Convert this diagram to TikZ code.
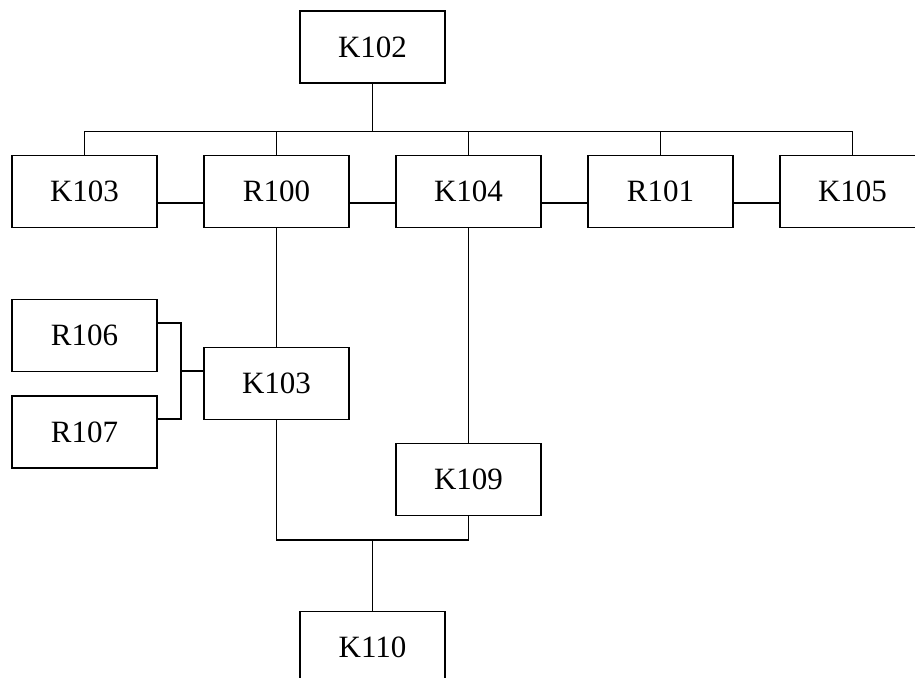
\documentclass[tikz,border=0pt]{standalone}
\usepackage{fontspec}
\setmainfont{Liberation Serif}
\begin{document}
\begin{tikzpicture}[x=1pt,y=-1pt,
  box/.style={draw,line width=1.6pt,minimum width=145pt,minimum height=72pt,inner sep=0pt,font=\fontsize{31}{36}\selectfont},
  wire/.style={line width=1.6pt}]
\useasboundingbox (0,0) rectangle (915,677);
\clip (0,0) rectangle (915,677);
\node[box] (K102) at (372.5,47) {K102};
\node[box] (K103a) at (84.5,191.5) {K103};
\node[box] (R100) at (276.5,191.5) {R100};
\node[box] (K104) at (468.5,191.5) {K104};
\node[box] (R101) at (660.5,191.5) {R101};
\node[box] (K105) at (852.5,191.5) {K105};
\node[box] (R106) at (84.5,335.5) {R106};
\node[box] (R107) at (84.5,432) {R107};
\node[box] (K103b) at (276.5,383.5) {K103};
\node[box] (K109) at (468.5,479.5) {K109};
\node[box] (K110) at (372.5,647.5) {K110};
\coordinate (bus) at (0,131.5);
\coordinate (lowbus) at (0,540);
\coordinate (join) at (180.7,0);
\coordinate (r106e) at ([yshift=12.5pt]R106.east);
\coordinate (r107e) at ([yshift=13pt]R107.east);
\coordinate (k103w) at ([yshift=12.5pt]K103b.west);
\draw[wire] (K102.south) -- (K102.south |- bus);
\draw[wire] (K103a.north) -- (K103a.north |- bus) -- (K105.north |- bus) -- (K105.north);
\draw[wire] (R100.north) -- (R100.north |- bus);
\draw[wire] (K104.north) -- (K104.north |- bus);
\draw[wire] (R101.north) -- (R101.north |- bus);
\draw[wire] ([yshift=-11.5pt]K103a.east) -- ([yshift=-11.5pt]R100.west);
\draw[wire] ([yshift=-11.5pt]R100.east) -- ([yshift=-11.5pt]K104.west);
\draw[wire] ([yshift=-11.5pt]K104.east) -- ([yshift=-11.5pt]R101.west);
\draw[wire] ([yshift=-11.5pt]R101.east) -- ([yshift=-11.5pt]K105.west);
\draw[wire] (R100.south) -- (K103b.north);
\draw[wire] (K104.south) -- (K109.north);
\draw[wire] (r106e) -- (join |- r106e) -- (join |- r107e) -- (r107e);
\draw[wire] (join |- k103w) -- (k103w);
\draw[wire] (K103b.south) -- (K103b.south |- lowbus) -- (K109.south |- lowbus) -- (K109.south);
\draw[wire] (K110.north |- lowbus) -- (K110.north);
\end{tikzpicture}
\end{document}
